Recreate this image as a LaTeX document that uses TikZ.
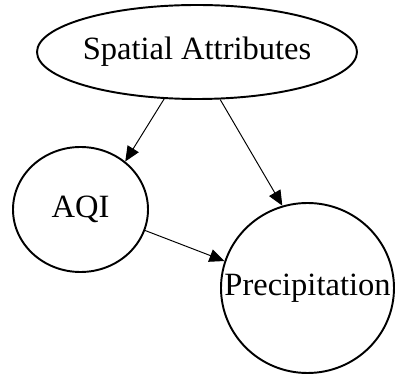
\documentclass[tikz,border=0pt]{standalone}
\usepackage{fontspec}
\setmainfont{Liberation Serif}
\usepackage{tikz}
\usetikzlibrary{arrows.meta, shapes.geometric}

\begin{document}
\begin{tikzpicture}[
    attr/.style={draw, ellipse, line width=1.1pt, inner sep=-0.5cm, font=\fontsize{18.5}{22}\selectfont},
    arrow/.style={-{Triangle[length=0.3cm, width=0.26cm]}, line width=0.55pt}
]
\useasboundingbox (0,0) rectangle (7.9,7.56);

\node[attr, minimum width=6.4cm, minimum height=1.88cm] (spatial) at (3.94, 6.52) {Spatial Attributes};
\node[attr, minimum width=2.7cm, minimum height=2.5cm] (aqi) at (1.61, 3.37) {AQI};
\node[attr, minimum width=3.46cm, minimum height=3.4cm] (precip) at (6.15, 1.8) {Precipitation};

\draw[arrow] (spatial.235.8) -- (aqi.47);
\draw[arrow] (spatial.296) -- (precip.107);
\draw[arrow] (aqi.342.6) -- (precip.162.7);

\end{tikzpicture}
\end{document}
